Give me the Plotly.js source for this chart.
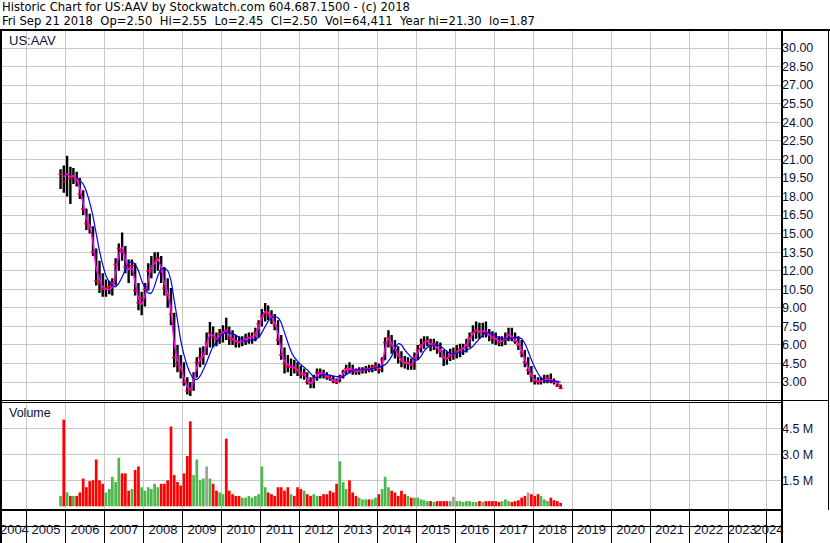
<!DOCTYPE html>
<html>
<head>
<meta charset="utf-8">
<script src="https://cdn.plot.ly/plotly-3.0.1.min.js"></script>
<style>
html,body{margin:0;padding:0;background:#ffffff;}
#chart{width:830px;height:543px;}
</style>
</head>
<body>
<div id="chart"></div>
<script>
// ---------------- DATA (monthly) ----------------
const firstMonth = {year: 2005, month: 11};   // first bar: Nov 2005, last: Sep 2018

const monthOpen = [
 19.2,19.8,19.2,19.8,19.5,19.6,19.3,18.2,17.0,15.8,
 15.5,13.5,11.2,11.0,10.5,10.6,10.7,11.0,12.5,13.8,
 13.5,12.3,12.2,12.4,10.4,9.4,9.8,10.5,12.0,12.4,
 12.8,13.0,12.0,10.6,10.0,8.5,5.0,4.4,4.0,3.0,
 2.5,2.4,3.4,4.6,5.0,6.2,6.2,7.0,6.6,6.5,
 6.9,7.4,7.2,6.5,6.4,6.3,6.2,6.3,6.5,6.6,
 6.7,7.0,7.7,8.3,8.6,8.4,8.2,7.6,6.4,5.2,
 4.5,4.2,4.3,4.1,3.9,3.6,3.7,3.0,2.9,3.3,
 3.8,3.7,3.6,3.4,3.3,3.1,3.0,3.4,3.8,4.1,
 4.0,3.9,3.8,3.9,4.0,4.1,4.0,4.2,4.3,4.0,
 4.8,6.2,6.6,5.9,5.6,5.2,4.7,4.5,4.6,4.4,
 5.0,5.6,6.0,6.2,6.3,6.0,6.1,5.7,5.5,5.0,
 4.9,5.2,5.2,5.5,5.6,5.8,6.0,6.6,7.0,7.2,
 7.0,7.1,7.0,6.8,6.6,6.5,6.2,6.3,6.5,6.8,
 6.6,6.3,6.0,5.4,4.0,4.0,3.5,3.1,3.0,3.1,
 3.2,3.3,3.1,3.0,2.7
];
const monthHigh = [
 20.2,20.5,21.3,20.4,20.3,20.0,19.5,18.5,17.0,16.6,
 15.6,13.8,12.8,11.8,11.3,11.2,11.4,13.0,14.2,15.1,
 14.0,12.9,12.9,12.6,11.0,10.3,11.0,12.6,13.2,13.5,
 13.5,13.2,12.3,11.4,10.6,8.6,6.0,5.2,4.6,3.4,
 3.0,3.8,5.0,5.8,5.9,7.0,7.85,7.5,7.0,7.3,
 7.6,8.2,7.5,7.2,6.8,6.7,6.7,6.9,7.0,7.0,
 7.4,8.0,8.9,9.4,9.2,8.8,8.5,8.0,6.8,5.8,
 5.2,4.9,4.8,4.6,4.3,4.1,3.8,3.4,3.6,4.1,
 4.1,4.0,3.8,3.6,3.5,3.3,3.6,4.0,4.4,4.6,
 4.4,4.1,4.2,4.2,4.3,4.4,4.4,4.6,4.5,5.0,
 6.6,7.2,6.8,6.4,5.9,5.5,5.1,5.0,4.9,5.4,
 6.0,6.5,6.7,6.7,6.5,6.5,6.3,6.2,5.6,5.5,
 5.7,5.8,6.0,6.1,6.1,6.5,7.0,7.6,7.9,7.8,
 7.8,7.9,7.3,7.1,7.0,6.7,6.7,7.0,7.4,7.4,
 7.0,6.7,6.4,5.6,5.0,4.3,3.6,3.4,3.4,3.6,
 3.6,3.7,3.3,3.1,2.8
];
const monthLow = [
 18.6,18.3,18.0,17.4,19.0,18.8,17.8,16.5,15.3,15.0,
 13.2,10.8,10.2,9.9,9.9,10.1,10.0,10.8,12.0,12.8,
 11.8,11.0,11.6,10.0,8.8,8.4,9.1,10.4,11.4,11.8,
 12.0,11.0,10.0,9.0,7.6,4.2,3.8,3.3,2.7,2.0,
 1.87,2.3,3.4,4.2,4.4,5.2,5.8,5.8,5.9,6.1,
 6.2,6.4,6.0,6.0,5.8,5.8,5.9,6.0,6.1,6.1,
 6.3,6.6,7.5,7.9,8.0,7.7,7.2,6.0,4.8,3.7,
 3.8,3.5,3.7,3.5,3.3,3.2,2.8,2.5,2.5,3.1,
 3.3,3.3,3.2,3.1,2.9,2.85,3.0,3.3,3.6,3.7,
 3.6,3.6,3.6,3.7,3.7,3.8,3.8,3.9,3.7,3.8,
 4.8,5.8,5.3,4.9,4.5,4.2,4.1,4.0,4.0,4.0,
 4.8,5.4,5.7,5.9,5.5,5.6,5.3,5.0,4.3,4.4,
 4.7,4.8,4.9,5.0,5.2,5.4,5.8,6.3,6.5,6.5,
 6.6,6.6,6.3,6.1,6.0,5.9,5.9,6.0,6.3,6.3,
 6.1,5.6,5.0,4.2,3.6,3.0,2.8,2.8,2.8,2.9,
 2.9,2.9,2.8,2.6,2.45
];
const monthClose = [
 19.8,19.2,19.8,19.5,19.6,19.3,18.2,17.0,15.8,15.5,
 13.5,11.2,11.0,10.5,10.6,10.7,11.0,12.5,13.8,13.5,
 12.3,12.2,12.4,10.4,9.4,9.8,10.5,12.0,12.4,12.8,
 13.0,12.0,10.6,10.0,8.5,5.0,4.4,4.0,3.0,2.3,
 2.4,3.4,4.6,5.0,5.4,6.2,7.0,6.6,6.5,6.9,
 7.0,7.2,6.5,6.4,6.3,6.2,6.3,6.5,6.6,6.7,
 7.0,7.7,8.3,8.6,8.4,8.2,7.6,6.4,5.2,4.5,
 4.2,4.3,4.1,3.9,3.6,3.7,3.0,2.9,3.3,3.8,
 3.7,3.6,3.4,3.3,3.1,3.0,3.4,3.8,4.1,4.0,
 3.9,3.8,3.9,4.0,4.1,4.0,4.2,4.3,4.0,4.8,
 6.2,6.6,5.9,5.6,5.2,4.7,4.5,4.6,4.4,5.0,
 5.6,6.0,6.2,6.3,6.0,6.1,5.7,5.5,5.0,4.9,
 5.2,5.2,5.5,5.6,5.8,6.0,6.6,7.0,7.2,7.0,
 7.1,7.0,6.8,6.6,6.5,6.2,6.3,6.5,6.8,6.6,
 6.3,6.0,5.4,4.6,4.0,3.5,3.1,3.0,3.1,3.2,
 3.3,3.1,3.0,2.7,2.5
];
// short moving average (magenta)
const maShort = [
 null,19.6,19.8,19.6,19.7,19.4,18.6,17.4,16.2,15.6,
 14.3,12.2,11.3,10.7,10.5,10.5,10.7,11.8,13.2,13.9,
 12.9,12.1,12.2,11.0,9.8,9.3,10.0,11.3,12.2,12.6,
 12.9,12.2,11.0,10.2,8.8,6.2,4.8,4.2,3.4,2.6,
 2.4,3.1,4.2,4.8,5.1,6.0,6.8,6.8,6.5,6.7,
 7.0,7.2,6.7,6.5,6.3,6.2,6.3,6.4,6.6,6.6,
 6.8,7.4,8.2,8.7,8.6,8.2,7.8,6.9,5.6,4.7,
 4.4,4.2,4.2,4.0,3.7,3.6,3.2,2.9,3.1,3.6,
 3.7,3.7,3.5,3.3,3.15,3.1,3.3,3.7,4.0,4.1,
 4.0,3.9,3.9,4.0,4.0,4.1,4.1,4.2,4.1,4.5,
 5.7,6.5,6.1,5.7,5.2,4.8,4.6,4.5,4.4,4.8,
 5.4,5.9,6.2,6.3,6.1,6.0,5.8,5.6,5.0,4.9,
 5.2,5.3,5.4,5.6,5.7,6.0,6.5,6.9,7.2,7.1,
 7.1,7.1,6.8,6.6,6.5,6.3,6.3,6.5,6.8,6.7,
 6.4,6.1,5.6,4.8,4.1,3.5,3.2,3.1,3.1,3.2,
 3.2,3.2,3.1,2.9,2.7
];
// long moving average (blue)
const maLong = [
 null,null,null,null,null,19.5,19.3,19.0,18.4,17.5,
 16.4,15.0,13.6,12.5,11.6,11.1,10.8,10.7,11.0,11.5,
 12.1,12.6,12.7,12.5,12.0,11.2,10.6,10.2,10.2,10.8,
 11.6,12.1,12.2,12.0,11.2,9.6,8.0,6.4,5.2,4.3,
 3.7,3.3,3.2,3.5,4.0,4.6,5.3,5.9,6.2,6.6,
 6.9,7.0,7.0,6.9,6.8,6.6,6.4,6.3,6.35,6.4,
 6.45,6.6,7.0,7.5,7.9,8.2,8.3,8.2,7.8,7.0,
 6.2,5.5,5.0,4.7,4.4,4.2,4.0,3.7,3.4,3.35,
 3.45,3.6,3.6,3.55,3.5,3.45,3.4,3.45,3.6,3.8,
 3.95,4.0,4.0,4.0,4.0,4.05,4.1,4.15,4.2,4.3,
 4.4,4.7,5.1,5.7,6.1,6.0,5.6,5.3,5.0,4.8,
 4.8,5.1,5.5,5.8,5.95,6.0,6.0,5.9,5.7,5.5,
 5.3,5.3,5.35,5.4,5.45,5.55,5.7,5.9,6.2,6.5,
 6.8,7.0,7.0,6.9,6.7,6.6,6.55,6.5,6.5,6.55,
 6.6,6.6,6.5,6.1,5.5,4.8,4.2,3.7,3.35,3.15,
 3.1,3.1,3.1,3.05,3.0
];
// volume, millions of shares
const monthVolume = [
 0.6,5.0,0.8,0.6,0.6,0.6,0.8,1.6,1.1,1.45,
 1.5,2.7,1.5,1.3,0.8,1.0,1.7,1.4,2.8,1.9,
 1.9,0.9,1.0,2.1,2.3,1.1,0.9,1.1,1.0,1.3,
 1.1,1.3,1.3,1.5,4.6,1.8,1.4,1.2,1.9,2.9,
 4.9,1.8,2.7,1.5,1.6,2.3,1.6,1.3,0.9,0.8,
 0.7,3.9,0.9,0.7,0.6,0.6,0.5,0.5,0.6,0.5,
 0.6,0.7,2.3,1.1,0.8,0.7,0.6,1.1,1.1,0.9,
 1.1,0.7,0.6,1.1,1.0,0.9,0.7,0.6,0.7,0.6,
 0.6,0.7,0.7,0.9,0.8,1.3,2.6,1.4,1.0,1.5,
 0.8,0.6,0.5,0.4,0.4,0.4,0.4,0.5,0.7,1.0,
 1.7,1.1,0.9,0.8,0.6,0.9,0.7,0.6,0.5,0.5,
 0.5,0.4,0.35,0.3,0.3,0.25,0.3,0.3,0.3,0.3,
 0.3,0.55,0.3,0.3,0.25,0.3,0.3,0.25,0.25,0.3,
 0.25,0.3,0.3,0.3,0.3,0.25,0.3,0.4,0.3,0.25,
 0.3,0.35,0.5,0.6,0.8,0.7,0.6,0.7,0.6,0.4,
 0.3,0.5,0.35,0.3,0.2
];

const priceTicks = [3,4.5,6,7.5,9,10.5,12,13.5,15,16.5,18,19.5,21,22.5,24,25.5,27,28.5,30];
const volumeTicks = [1.5, 3.0, 4.5];
const volumeTickText = ['1.5 M', '3.0 M', '4.5 M'];
const yearLabels = ['2004','2005','2006','2007','2008','2009','2010','2011','2012','2013','2014',
                    '2015','2016','2017','2018','2019','2020','2021','2022','2023','2024'];
const yearLabelPos = ['2004-09-08','2005-07-02','2006-07-02','2007-07-02','2008-07-02','2009-07-02',
                      '2010-07-02','2011-07-02','2012-07-02','2013-07-02','2014-07-02','2015-07-02',
                      '2016-07-02','2017-07-02','2018-07-02','2019-07-02','2020-07-02','2021-07-02',
                      '2022-07-02','2023-05-15','2024-01-20'];

const headerLine1 = 'Historic Chart for US:AAV by Stockwatch.com 604.687.1500 - (c) 2018';
const headerLine2 = ['Fri Sep 21 2018','Op=2.50','Hi=2.55','Lo=2.45','Cl=2.50','Vol=64,411','Year hi=21.30','lo=1.87'];
const symbolLabel = 'US:AAV';
const volumeLabel = 'Volume';

// ---------------- BUILD ----------------
const months = [];
for (let k = 0; k < monthClose.length; k++) {
  const m0 = firstMonth.month - 1 + k;
  const y = firstMonth.year + Math.floor(m0 / 12);
  const m = (m0 % 12) + 1;
  months.push(y + '-' + String(m).padStart(2, '0') + '-15');
}
const volColors = monthClose.map((c, i) =>
  c > monthOpen[i] ? '#4cb84c' : (c < monthOpen[i] ? '#ff0000' : '#a0a0a0'));

const W = 830, H = 543, L = 2, R = 49, T = 31, B = 33;
const pw = W - L - R, ph = H - T - B;
const px = x => (x - L) / pw;
const py = y => (H - B - y) / ph;

const xRange = ['2004-05-15', '2024-05-11 14:00'];
const gridCol = '#c8c8c8';
const FONT = 'Liberation Sans, Arial, sans-serif';
const HFONT = 'DejaVu Sans, Liberation Sans, sans-serif';
const labelCol = '#10103a';

const traces = [
  {type: 'ohlc', x: months, open: monthOpen, high: monthHigh, low: monthLow, close: monthClose,
   xaxis: 'x', yaxis: 'y', tickwidth: 0.2,
   increasing: {line: {color: '#000000', width: 2.4}},
   decreasing: {line: {color: '#000000', width: 2.4}},
   hoverinfo: 'skip', showlegend: false},
  {type: 'scatter', mode: 'markers', x: months, y: monthClose, xaxis: 'x', yaxis: 'y',
   marker: {symbol: 'line-ew', size: 3, line: {color: '#ff0000', width: 1.5}},
   hoverinfo: 'skip', showlegend: false},
  {type: 'scatter', mode: 'lines', x: months, y: maShort, xaxis: 'x', yaxis: 'y',
   line: {color: '#ff00ff', width: 1.5, shape: 'spline', smoothing: 0.6},
   connectgaps: false, hoverinfo: 'skip', showlegend: false},
  {type: 'scatter', mode: 'lines', x: months, y: maLong, xaxis: 'x', yaxis: 'y',
   line: {color: '#0000ff', width: 1.2, shape: 'spline', smoothing: 0.6},
   connectgaps: false, hoverinfo: 'skip', showlegend: false},
  {type: 'bar', x: months, y: monthVolume, xaxis: 'x2', yaxis: 'y2',
   marker: {color: volColors, line: {width: 0}}, width: 2.2e9,
   hoverinfo: 'skip', showlegend: false},
  {type: 'scatter', x: [], y: [], xaxis: 'x3', yaxis: 'y2', hoverinfo: 'skip', showlegend: false}
];

const hLine = (y, x0, x1, w) => ({type: 'line', xref: 'paper', yref: 'paper', layer: 'above',
  x0: px(x0), x1: px(x1), y0: py(y), y1: py(y), line: {color: '#000000', width: w}});
const vLine = (x, y0, y1, w) => ({type: 'line', xref: 'paper', yref: 'paper', layer: 'above',
  x0: px(x), x1: px(x), y0: py(y0), y1: py(y1), line: {color: '#000000', width: w}});

const layout = {
  width: W, height: H,
  margin: {l: L, r: R, t: T, b: B, pad: 0},
  paper_bgcolor: '#ffffff', plot_bgcolor: '#ffffff',
  font: {family: FONT, size: 12, color: labelCol},
  showlegend: false,
  xaxis: {domain: [0, 1], anchor: 'y', type: 'date', range: xRange,
          tick0: '2005-01-01', dtick: 'M12', showticklabels: false, ticks: '',
          showgrid: true, gridcolor: gridCol, gridwidth: 1, zeroline: false, showline: false,
          rangeslider: {visible: false}, fixedrange: true},
  xaxis2: {domain: [0, 1], anchor: 'y2', type: 'date', range: xRange,
           tick0: '2005-01-01', dtick: 'M12', showticklabels: false,
           ticks: 'outside', ticklen: 33, tickwidth: 1, tickcolor: '#000000',
           showgrid: true, gridcolor: gridCol, gridwidth: 1, zeroline: false, showline: false,
           fixedrange: true},
  xaxis3: {overlaying: 'x2', anchor: 'y2', type: 'date', range: xRange,
           tickmode: 'array', tickvals: yearLabelPos, ticktext: yearLabels, tickangle: 0,
           ticklabeloverflow: 'allow',
           ticks: '', showgrid: false, zeroline: false, showline: false,
           ticklabelstandoff: 10, tickfont: {family: FONT, size: 13, color: labelCol},
           fixedrange: true},
  yaxis: {domain: [py(401), 1], anchor: 'x', side: 'right', range: [1.473, 31.374],
          tickmode: 'array', tickvals: priceTicks, ticktext: priceTicks.map(v => v.toFixed(2)),
          ticks: '', showgrid: true, gridcolor: gridCol, gridwidth: 1, zeroline: false, showline: false,
          tickfont: {family: FONT, size: 12.5, color: labelCol}, fixedrange: true},
  yaxis2: {domain: [0, py(402)], anchor: 'x2', side: 'right', range: [-0.213, 6.017],
           tickmode: 'array', tickvals: volumeTicks, ticktext: volumeTickText,
           ticks: '', showgrid: true, gridcolor: gridCol, gridwidth: 1, zeroline: false, showline: false,
           tickfont: {family: FONT, size: 12.5, color: labelCol}, fixedrange: true},
  annotations: [
    {xref: 'paper', yref: 'paper', x: px(1), y: py(7.5), xanchor: 'left', yanchor: 'middle', borderpad: 0,
     text: headerLine1, showarrow: false, font: {family: HFONT, size: 11.6, color: '#000000'}},
    {xref: 'paper', yref: 'paper', x: px(1), y: py(21.5), xanchor: 'left', yanchor: 'middle', borderpad: 0,
     text: headerLine2.join('\u00a0\u00a0'), showarrow: false, font: {family: HFONT, size: 11.6, color: '#000000'}},
    {xref: 'paper', yref: 'paper', x: px(7), y: py(40.5), xanchor: 'left', yanchor: 'middle',
     text: symbolLabel, showarrow: false, font: {family: FONT, size: 13, color: labelCol}},
    {xref: 'paper', yref: 'paper', x: px(7), y: py(413), xanchor: 'left', yanchor: 'middle',
     text: volumeLabel, showarrow: false, font: {family: FONT, size: 12.5, color: labelCol}}
  ],
  shapes: [
    hLine(30, 0, 830, 2),
    vLine(1, 30, 543, 2),
    vLine(782, 30, 543, 2),
    vLine(828.5, 30, 510, 1),
    hLine(400.5, 0, 829, 1),
    hLine(402.5, 0, 782, 1),
    hLine(510, 0, 782, 2),
    hLine(526.5, 0, 782, 1)
  ]
};

Plotly.newPlot('chart', traces, layout, {staticPlot: true, displayModeBar: false});
</script>
</body>
</html>
